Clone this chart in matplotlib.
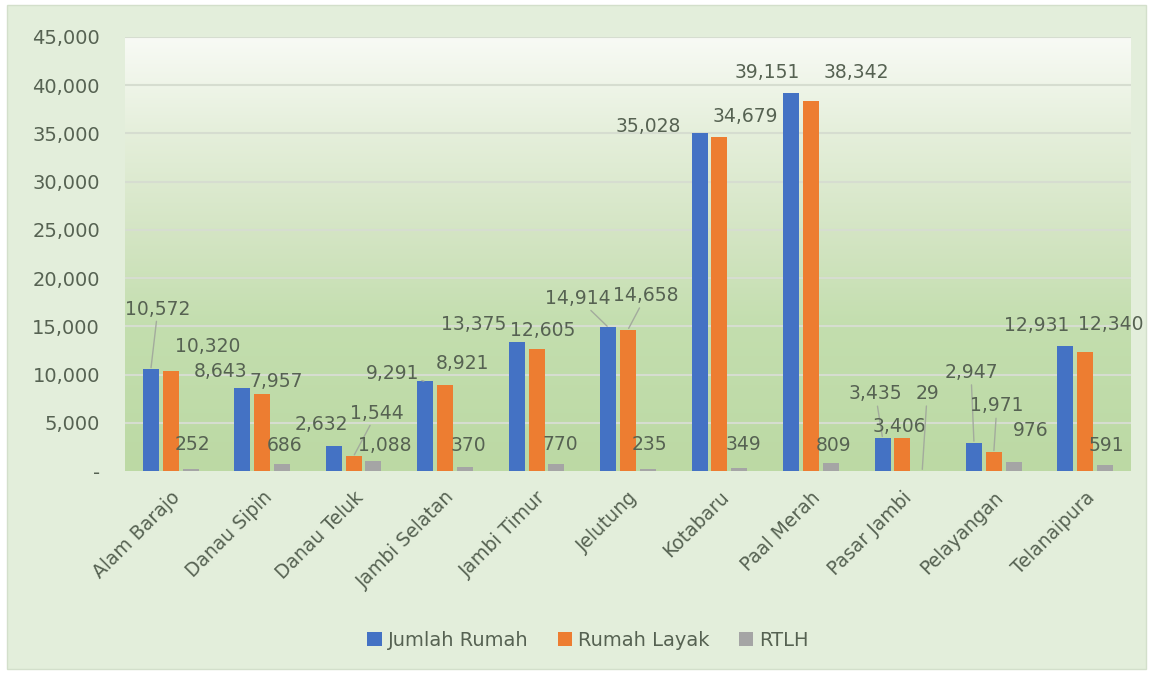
import numpy as np
import matplotlib.pyplot as plt
from matplotlib.patches import Rectangle
from matplotlib.colors import LinearSegmentedColormap

kecamatan = ['Alam Barajo', 'Danau Sipin', 'Danau Teluk', 'Jambi Selatan',
             'Jambi Timur', 'Jelutung', 'Kotabaru', 'Paal Merah',
             'Pasar Jambi', 'Pelayangan', 'Telanaipura']
jumlah_rumah = [10572, 8643, 2632, 9291, 13375, 14914, 35028, 39151, 3435, 2947, 12931]
rumah_layak = [10320, 7957, 1544, 8921, 12605, 14658, 34679, 38342, 3406, 1971, 12340]
rtlh = [252, 686, 1088, 370, 770, 235, 349, 809, 29, 976, 591]
y_ticks = [0, 5000, 10000, 15000, 20000, 25000, 30000, 35000, 40000, 45000]

# label offsets from bar top, in pixels (dx, dy) + whether a leader line is drawn
off_jumlah = [(7, 60, True), (-22, 16, False), (-12, 21, False), (-33, 8, True),
              (-43, 18, False), (-30, 29, True), (-51, 7, False), (-24, 21, False),
              (-7, 44, True), (-3, 70, True), (-29, 21, False)]
off_layak = [(37, 25, False), (14, 13, False), (23, 43, True), (17, 21, False),
             (6, 19, False), (18, 34, True), (26, 20, False), (45, 29, False),
             (-3, 12, False), (3, 46, True), (25, 27, False)]
off_rtlh = [(2, 24, False), (3, 19, False), (11, 15, False), (3, 22, False),
            (4, 19, False), (2, 24, False), (4, 23, False), (3, 18, False),
            (5, 77, True), (17, 31, False), (1, 20, False)]

txt = '#566252'
plt.rcParams['font.family'] = ['DejaVu Sans']

fig = plt.figure(figsize=(11.53, 6.75), dpi=100)
fig.patch.set_facecolor('white')
fig.patches.append(Rectangle((7 / 1153, 6 / 675), 1139 / 1153, 664 / 675,
                             transform=fig.transFigure, facecolor='#e3eedb',
                             edgecolor='#d3dfcb', lw=1.0, zorder=-5))

ax = fig.add_axes([125 / 1153, 1 - 471 / 675, 1006 / 1153, 434 / 675])
ax.set_facecolor('none')
for s in ax.spines.values():
    s.set_visible(False)

x = np.arange(len(kecamatan))
ax.set_xlim(-0.5, len(kecamatan) - 0.5)
ax.set_ylim(0, 45000)

# plot area gradient
cmap = LinearSegmentedColormap.from_list(
    'bg', [(0, '#bcd9a4'), (0.33, '#c3deae'), (0.55, '#d4e5c4'),
           (0.78, '#e5efdb'), (1, '#f8faf5')])
grad = np.linspace(0, 1, 256).reshape(-1, 1)
ax.imshow(grad, cmap=cmap, aspect='auto', origin='lower',
          extent=(-0.5, len(kecamatan) - 0.5, 0, 45000), zorder=0)

for t in y_ticks[1:]:
    ax.axhline(t, color='#d6ddd0', lw=1.5, zorder=1)

w = 0.175
step = 0.217
series = [(jumlah_rumah, '#4472c4', 'Jumlah Rumah', off_jumlah, -step),
          (rumah_layak, '#ed7d31', 'Rumah Layak', off_layak, 0),
          (rtlh, '#a5a5a5', 'RTLH', off_rtlh, step)]

for vals, col, name, offs, sh in series:
    ax.bar(x + sh, vals, width=w, color=col, label=name, zorder=2)
    for xi, v, (dx, dy, lead) in zip(x, vals, offs):
        ap = None
        if lead:
            ap = dict(arrowstyle='-', color='#a3ab9d', lw=1.0,
                      shrinkA=0, shrinkB=1)
        ax.annotate(f'{v:,}', xy=(xi + sh, v), xytext=(dx, dy),
                    textcoords='offset pixels', ha='center', va='center',
                    fontsize=13.5, color=txt, arrowprops=ap, zorder=3)

ax.set_yticks(y_ticks)
ax.set_yticklabels(['-'] + [f'{t:,}' for t in y_ticks[1:]])
ax.set_xticks(x)
ax.set_xticklabels(kecamatan, rotation=45, ha='right', va='top',
                   rotation_mode='anchor')
ax.tick_params(axis='y', length=0, pad=18, labelsize=14, labelcolor=txt)
ax.tick_params(axis='x', length=0, pad=12, labelsize=13.5, labelcolor=txt)

fig.legend(loc='center', bbox_to_anchor=(588 / 1153, 1 - 640 / 675), ncol=3,
           frameon=False, fontsize=14, labelcolor=txt, handlelength=0.75,
           handleheight=0.75, handletextpad=0.3, columnspacing=1.5)

fig.savefig('out.png', dpi=100, facecolor=fig.get_facecolor())
